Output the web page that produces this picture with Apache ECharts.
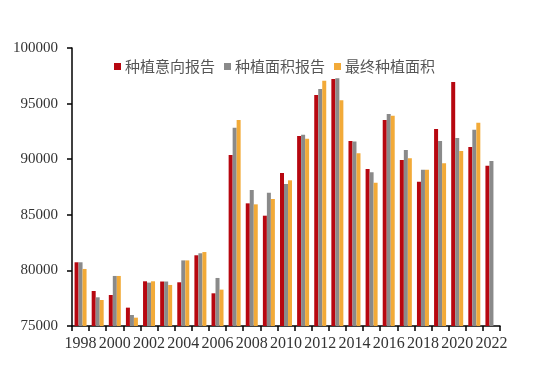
<!DOCTYPE html>
<html>
<head>
<meta charset="utf-8">
<script src="https://cdn.jsdelivr.net/npm/echarts@6/dist/echarts.min.js"></script>
<style>
  html, body { margin: 0; padding: 0; background: #fff; }
  #main { width: 550px; height: 382px; }
</style>
</head>
<body>
<div id="main"></div>
<script>
// 年份
var years = ['1998','1999','2000','2001','2002','2003','2004','2005','2006','2007','2008','2009',
             '2010','2011','2012','2013','2014','2015','2016','2017','2018','2019','2020','2021','2022'];
var seriesNames = ['种植意向报告', '种植面积报告', '最终种植面积'];
// 种植意向报告
var intention = [80730, 78150, 77790, 76650, 79020, 79000, 78930, 81360, 77940, 90380, 86030, 84920,
                 88760, 92090, 95770, 97210, 91640, 89120, 93530, 89930, 87980, 92720, 96940, 91100, 89420];
// 种植面积报告
var acreage = [80730, 77580, 79500, 75990, 78900, 79000, 80900, 81540, 79320, 92830, 87230, 86990,
               87770, 92200, 96310, 97270, 91600, 88820, 94060, 90830, 89060, 91640, 91910, 92650, 89840];
// 最终种植面积
var finalArea = [80130, 77340, 79500, 75750, 79020, 78690, 80900, 81650, 78270, 93530, 85940, 86420,
                 88100, 91840, 97060, 95300, 90530, 87890, 93910, 90080, 89060, 89630, 90740, 93280, null];

var colors = ['#B70710', '#8A8A8A', '#F2AA38'];

var dom = document.getElementById('main');
var myChart = echarts.init(dom);
myChart.setOption({
    animation: false,
    color: colors,
    legend: {
        data: seriesNames,
        left: 109,
        top: 54,
        itemWidth: 7,
        itemHeight: 7,
        itemGap: 9,
        icon: 'rect',
        textStyle: {
            fontFamily: 'Noto Sans CJK SC',
            fontSize: 15,
            color: '#555',
            padding: [0, 0, 0, -1]
        }
    },
    grid: {
        left: 72,
        right: 50,
        top: 48,
        bottom: 56,
        containLabel: false
    },
    xAxis: {
        type: 'category',
        data: years,
        axisLine: { lineStyle: { color: '#000', width: 1.5 } },
        axisTick: { show: true, interval: 0, length: 5, lineStyle: { color: '#000', width: 1.5 } },
        axisLabel: {
            interval: 1,
            margin: 10,
            fontFamily: 'Liberation Serif',
            fontSize: 16,
            color: '#333'
        },
        splitLine: { show: false }
    },
    yAxis: {
        type: 'value',
        min: 75000,
        max: 100000,
        interval: 5000,
        axisLine: { show: true, lineStyle: { color: '#000', width: 1.5 } },
        axisTick: { show: true, length: 5, lineStyle: { color: '#000', width: 1.5 } },
        axisLabel: {
            margin: 14,
            fontFamily: 'Liberation Serif',
            fontSize: 15,
            color: '#333',
            formatter: function (v) { return String(v); }
        },
        splitLine: { show: false }
    },
    series: [
        { name: seriesNames[0], type: 'bar', barWidth: 4, barGap: '0%', data: intention },
        { name: seriesNames[1], type: 'bar', barWidth: 4, barGap: '0%', data: acreage },
        { name: seriesNames[2], type: 'bar', barWidth: 4, barGap: '0%', data: finalArea }
    ]
});
window.addEventListener('resize', function () {
    myChart.resize();
});
</script>
</body>
</html>
